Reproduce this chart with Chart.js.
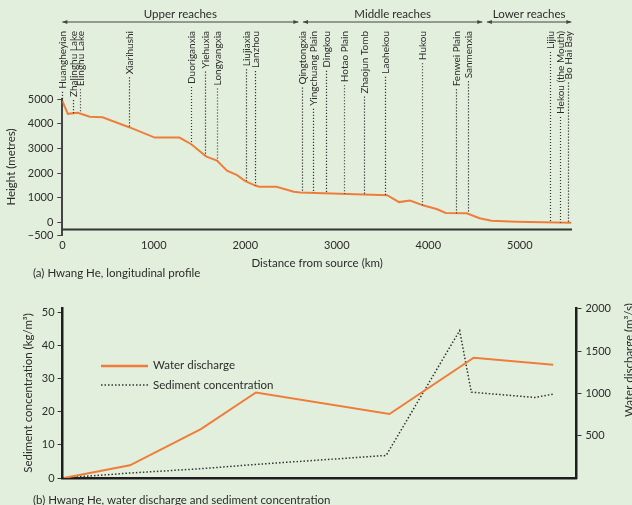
<!DOCTYPE html>
<html>
<head>
<meta charset="utf-8">
<script src="https://cdn.jsdelivr.net/npm/chart.js@4.4.0/dist/chart.umd.min.js"></script>
<style>
  body { margin: 0; background: #e3efdd; }
  .box { position: absolute; left: 0; width: 632px; }
  #top { top: 0; height: 290px; }
  #bot { top: 290px; height: 215px; }
</style>
</head>
<body>
<div class="box" id="top"><canvas id="profileChart"></canvas></div>
<div class="box" id="bot"><canvas id="flowChart"></canvas></div>
<script>
// === (a) longitudinal profile ===
const profileKm = [0, 60, 170, 300, 440, 730, 1010, 1280, 1410, 1570, 1690, 1800, 1910, 2000, 2110, 2150, 2340, 2530, 2600, 3550, 3680, 3800, 3950, 4090, 4190, 4420, 4560, 4690, 4960, 5563];
const profileHeight = [4920, 4400, 4440, 4280, 4260, 3860, 3440, 3440, 3170, 2680, 2510, 2100, 1920, 1680, 1500, 1450, 1450, 1250, 1220, 1110, 830, 890, 690, 550, 390, 380, 180, 80, 40, 0];
const heightTicks = [5000, 4000, 3000, 2000, 1000, 0, -500];
const distanceTicks = [0, 1000, 2000, 3000, 4000, 5000];

const placeNames = ["Huangheyian", "Zhalinghu Lake", "Elinghu Lake", "Xiarihushi", "Duoriganxia", "Yiehuxia", "Longyangxia", "Liujiaxia", "Lanzhou", "Qingtongxia", "Yingchuang Plain", "Dingkou", "Hotao Plain", "Zhaojun Tomb", "Laohekou", "Hukou", "Fenwei Plain", "Sanmenxia", "Lijiu", "Hekou (the Mouth)", "Bo Hai Bay"];
const placeKm = [0, 117, 196, 727, 1405, 1561, 1688, 2004, 2102, 2614, 2737, 2887, 3075, 3293, 3529, 3936, 4300, 4437, 5327, 5436, 5530];
const placeHeight = [4920, 4400, 4420, 3870, 3170, 2700, 2500, 1680, 1500, 1220, 1200, 1180, 1160, 1130, 1110, 700, 380, 380, 10, 0, -10];

const reachNames = ["Upper reaches", "Middle reaches", "Lower reaches"];
const reachFrom = [0, 2630, 4640];
const reachTo = [2580, 4590, 5563];

// === (b) discharge and sediment ===
const dischargeKm = [14, 734, 1507, 2107, 3562, 4480, 5346];
const discharge = [0, 150, 578, 1010, 756, 1420, 1337];
const sedimentKm = [0, 734, 1507, 2107, 3526, 4327, 4454, 5146, 5346];
const sediment = [0, 1.5, 2.8, 4.1, 6.8, 44.5, 25.9, 24.3, 25.3];
const sedimentTicks = [0, 10, 20, 30, 40, 50];
const dischargeTicks = [500, 1000, 1500, 2000];

const ORANGE = "#ef7d3a";
const INK = "#2b2b2b";

Chart.defaults.font.family = "Lato";
Chart.defaults.color = INK;
Chart.defaults.animation = false;

const fmt = v => (v < 0 ? "\u2212" + Math.abs(v) : String(v));

function arrowHead(ctx, x, y, dir) {
  ctx.beginPath();
  ctx.moveTo(x, y);
  ctx.lineTo(x - dir * 5, y - 2);
  ctx.lineTo(x - dir * 5, y + 2);
  ctx.closePath();
  ctx.fill();
}

const profileExtras = {
  id: "profileExtras",
  afterDatasetsDraw(chart) {
    const { ctx, chartArea, scales: { x, y } } = chart;
    ctx.save();
    // x axis line (sits a little above the -500 bottom)
    ctx.strokeStyle = "#333";
    ctx.lineWidth = 2;
    const ax = y.getPixelForValue(-280);
    ctx.beginPath();
    ctx.moveTo(chartArea.left, ax);
    ctx.lineTo(chartArea.right, ax);
    ctx.stroke();

    // reaches
    ctx.lineWidth = 1;
    ctx.strokeStyle = "#444";
    reachNames.forEach((name, i) => {
      const a = x.getPixelForValue(reachFrom[i]);
      const b = x.getPixelForValue(reachTo[i]);
      ctx.fillStyle = "#444";
      ctx.beginPath();
      ctx.moveTo(a, 22);
      ctx.lineTo(b, 22);
      ctx.stroke();
      arrowHead(ctx, a, 22, -1);
      arrowHead(ctx, b, 22, 1);
      ctx.fillStyle = INK;
      ctx.font = "11.5px Lato";
      ctx.textAlign = "center";
      ctx.textBaseline = "middle";
      ctx.fillText(name, (a + b) / 2, 14);
    });

    // places
    ctx.font = "10px Lato";
    placeNames.forEach((name, i) => {
      const px = Math.round(x.getPixelForValue(placeKm[i])) + 0.5;
      const w = ctx.measureText(name).width;
      ctx.save();
      ctx.translate(px, 31);
      ctx.rotate(-Math.PI / 2);
      ctx.textAlign = "right";
      ctx.textBaseline = "middle";
      ctx.fillStyle = INK;
      ctx.fillText(name, 0, 0);
      ctx.restore();
      const yEnd = y.getPixelForValue(placeHeight[i]);
      ctx.strokeStyle = "#333";
      ctx.lineWidth = 1.2;
      ctx.setLineDash([1.2, 1.8]);
      ctx.beginPath();
      ctx.moveTo(px, 31 + w + 3);
      ctx.lineTo(px, yEnd);
      ctx.stroke();
      ctx.setLineDash([]);
    });

    // caption
    ctx.fillStyle = INK;
    ctx.font = "11.5px Lato";
    ctx.textAlign = "left";
    ctx.textBaseline = "middle";
    ctx.fillText("(a) Hwang He, longitudinal profile", 33, 273);
    ctx.restore();
  }
};

new Chart(document.getElementById("profileChart"), {
  type: "line",
  data: {
    datasets: [{
      data: profileKm.map((k, i) => ({ x: k, y: profileHeight[i] })),
      borderColor: ORANGE,
      borderWidth: 2,
      pointRadius: 0,
      tension: 0
    }]
  },
  options: {
    responsive: true,
    maintainAspectRatio: false,
    layout: { padding: { top: 99, right: 60, bottom: 16, left: 0 } },
    plugins: { legend: { display: false }, tooltip: { enabled: false } },
    scales: {
      x: {
        type: "linear",
        min: 0,
        max: 5570,
        afterBuildTicks: s => { s.ticks = distanceTicks.map(v => ({ value: v })); },
        ticks: { callback: fmt, padding: 4, font: { size: 11 }, maxRotation: 0 },
        grid: { display: false, drawTicks: false },
        border: { display: false },
        title: { display: true, text: "Distance from source (km)", font: { size: 11.5 }, padding: { top: 0, bottom: 4 } }
      },
      y: {
        min: -500,
        max: 5000,
        afterBuildTicks: s => { s.ticks = heightTicks.map(v => ({ value: v })); },
        ticks: { callback: fmt, padding: 4, font: { size: 11 } },
        grid: { drawOnChartArea: false, tickLength: 5, color: "#444", lineWidth: 1 },
        border: { display: true, color: "#444", width: 2 },
        title: { display: true, text: "Height (metres)", font: { size: 11.5 }, padding: { top: 4, bottom: 6 } }
      }
    }
  },
  plugins: [profileExtras]
});

// === (b) chart ===
const flowExtras = {
  id: "flowExtras",
  afterDraw(chart) {
    const { ctx, chartArea } = chart;
    ctx.save();
    // legend
    ctx.strokeStyle = ORANGE;
    ctx.lineWidth = 2.5;
    ctx.beginPath();
    ctx.moveTo(101, 76);
    ctx.lineTo(148, 76);
    ctx.stroke();
    ctx.strokeStyle = "#333";
    ctx.lineWidth = 1.5;
    ctx.setLineDash([1.5, 2]);
    ctx.beginPath();
    ctx.moveTo(101, 95);
    ctx.lineTo(148, 95);
    ctx.stroke();
    ctx.setLineDash([]);
    ctx.fillStyle = INK;
    ctx.font = "11.5px Lato";
    ctx.textAlign = "left";
    ctx.textBaseline = "middle";
    ctx.fillText("Water discharge", 153, 75);
    ctx.fillText("Sediment concentration", 153, 95);

    // right axis title, reading upwards like the left one
    ctx.save();
    ctx.translate(629, (chartArea.top + chartArea.bottom) / 2 - 33);
    ctx.rotate(-Math.PI / 2);
    ctx.textAlign = "center";
    ctx.fillText("Water discharge (m\u00b3/s)", 0, 0);
    ctx.restore();

    // caption
    ctx.fillText("(b) Hwang He, water discharge and sediment concentration", 33, 210);
    ctx.restore();
  }
};

new Chart(document.getElementById("flowChart"), {
  type: "line",
  data: {
    datasets: [{
      label: "Water discharge",
      data: dischargeKm.map((k, i) => ({ x: k, y: discharge[i] })),
      yAxisID: "y1",
      borderColor: ORANGE,
      borderWidth: 2,
      pointRadius: 0,
      tension: 0
    }, {
      label: "Sediment concentration",
      data: sedimentKm.map((k, i) => ({ x: k, y: sediment[i] })),
      yAxisID: "y",
      borderColor: "#333",
      borderWidth: 1.5,
      borderDash: [1.5, 2],
      pointRadius: 0,
      tension: 0
    }]
  },
  options: {
    responsive: true,
    maintainAspectRatio: false,
    layout: { padding: { top: 18, right: 17, bottom: 27, left: 17 } },
    plugins: { legend: { display: false }, tooltip: { enabled: false } },
    scales: {
      x: {
        type: "linear",
        min: 0,
        max: 5600,
        ticks: { display: false },
        grid: { display: false, drawTicks: false },
        border: { display: true, color: "#1e1e1e", width: 2.5 }
      },
      y: {
        position: "left",
        min: 0,
        max: 51.3,
        afterBuildTicks: s => { s.ticks = sedimentTicks.map(v => ({ value: v })); },
        ticks: { callback: fmt, padding: 3, font: { size: 11 } },
        grid: { drawOnChartArea: false, tickLength: 5, color: "#333" },
        border: { display: true, color: "#1e1e1e", width: 2.5 },
        title: { display: true, text: "Sediment concentration (kg/m\u00b3)", font: { size: 11.5 }, padding: { top: 4, bottom: 4 } }
      },
      y1: {
        position: "right",
        min: 0,
        max: 2008,
        afterBuildTicks: s => { s.ticks = dischargeTicks.map(v => ({ value: v })); },
        ticks: { callback: fmt, padding: 4, font: { size: 11 } },
        grid: { drawOnChartArea: false, tickLength: 5, color: "#333" },
        border: { display: true, color: "#1e1e1e", width: 2.5 }
      }
    }
  },
  plugins: [flowExtras]
});
</script>
</body>
</html>
